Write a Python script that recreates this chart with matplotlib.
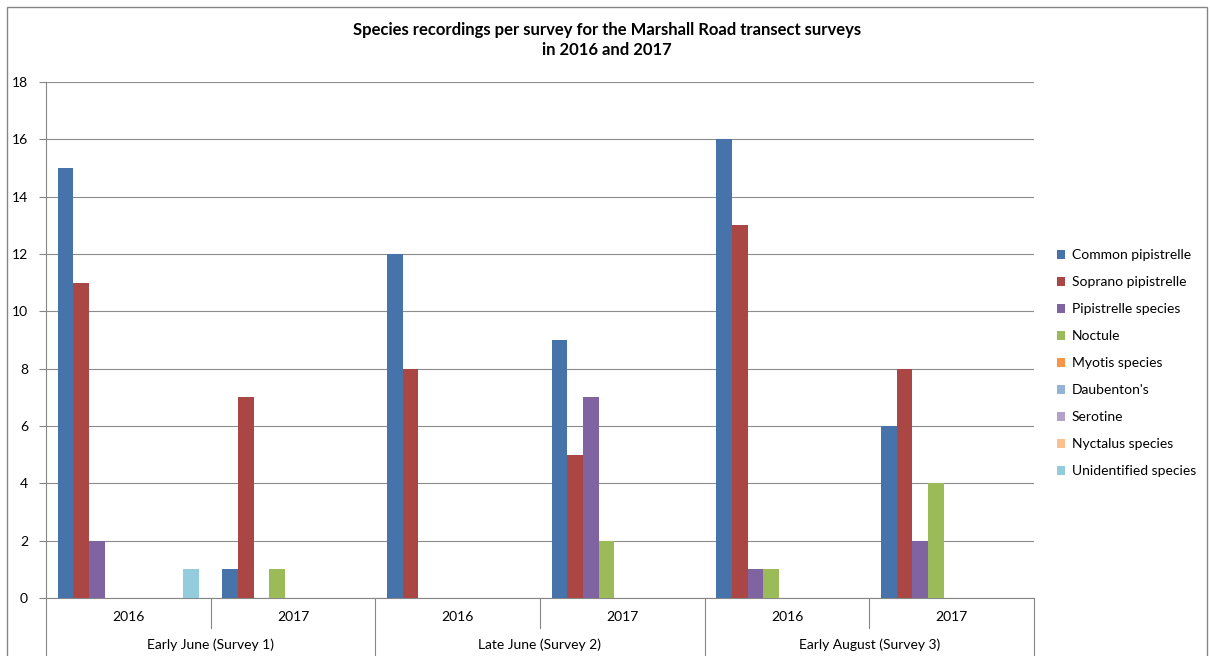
import matplotlib
matplotlib.use('Agg')
import matplotlib.pyplot as plt
import matplotlib.transforms as mtransforms
from matplotlib.patches import Rectangle
import numpy as np

plt.rcParams['font.family'] = ['Lato', 'DejaVu Sans']

# 数据：每次调查、每年的物种记录数
surveys = ['Early June (Survey 1)', 'Late June (Survey 2)', 'Early August (Survey 3)']
years = ['2016', '2017']
species = ['Common pipistrelle', 'Soprano pipistrelle', 'Pipistrelle species', 'Noctule',
           'Myotis species', "Daubenton's", 'Serotine', 'Nyctalus species', 'Unidentified species']

common_pip = [15, 1, 12, 9, 16, 6]
soprano_pip = [11, 7, 8, 5, 13, 8]
pip_species = [2, 0, 0, 7, 1, 2]
noctule = [0, 1, 0, 2, 1, 4]
myotis = [0, 0, 0, 0, 0, 0]
daubentons = [0, 0, 0, 0, 0, 0]
serotine = [0, 0, 0, 0, 0, 0]
nyctalus = [0, 0, 0, 0, 0, 0]
unidentified = [1, 0, 0, 0, 0, 0]

series = [common_pip, soprano_pip, pip_species, noctule, myotis,
          daubentons, serotine, nyctalus, unidentified]
colors = ['#4673AA', '#AA4744', '#8064A2', '#9BBB59', '#F79646',
          '#95B3D7', '#B3A2C7', '#FAC090', '#93CDDD']

W, H = 1210, 656
fig = plt.figure(figsize=(W / 100, H / 100), dpi=100)
ax = fig.add_axes([46 / W, 1 - 598 / H, 988 / W, 516 / H])

# 外框
fig.patches.append(Rectangle((7 / W, -0.05), 1200 / W, 1.05 - 7 / H, transform=fig.transFigure,
                             fill=False, edgecolor='#868686', linewidth=1.0))

n_groups = len(surveys) * len(years)
x = np.arange(n_groups)
width = 1 / (len(series) + 1.5)
for i, (vals, name) in enumerate(zip(series, species)):
    ax.bar(x + (i - (len(series) - 1) / 2) * width, vals, width, color=colors[i],
           label=name, linewidth=0, zorder=3)

ax.set_xlim(-0.5, n_groups - 0.5)
ax.set_ylim(0, 18)
ax.set_yticks(range(0, 19, 2))
ax.yaxis.grid(True, color='#8c8c8c', linewidth=0.8, zorder=0)
ax.tick_params(axis='y', length=5, color='#868686', labelsize=10, pad=8)
ax.set_xticks([])
for s in ['top', 'right']:
    ax.spines[s].set_visible(False)
for s in ['left', 'bottom']:
    ax.spines[s].set_color('#868686')
    ax.spines[s].set_linewidth(0.8)

# 多级 x 轴标签
trans = mtransforms.blended_transform_factory(ax.transData, ax.transAxes)
for g in range(n_groups):
    ax.text(g, -0.037, years[g % 2], transform=trans, ha='center', va='center', fontsize=10)
for k, s in enumerate(surveys):
    ax.text(2 * k + 0.5, -0.091, s, transform=trans, ha='center', va='center', fontsize=10)
for b in np.arange(-0.5, n_groups, 1.0):
    full = int(round(b + 0.5)) % 2 == 0
    ax.plot([b, b], [0, -0.2 if full else -0.058], transform=trans, color='#868686',
            linewidth=0.8, clip_on=False)

fig.text(607 / W, 1 - 40 / H, 'Species recordings per survey for the Marshall Road transect surveys\nin 2016 and 2017',
         ha='center', va='center', fontsize=12, fontweight='bold', linespacing=1.25)

ax.legend(loc='center left', bbox_to_anchor=(1050 / W, 1 - 363 / H), bbox_transform=fig.transFigure,
          frameon=False, fontsize=10, handlelength=0.6, handleheight=0.6, handletextpad=0.45,
          labelspacing=1.08, borderpad=0)

fig.savefig('out.png', dpi=100)
